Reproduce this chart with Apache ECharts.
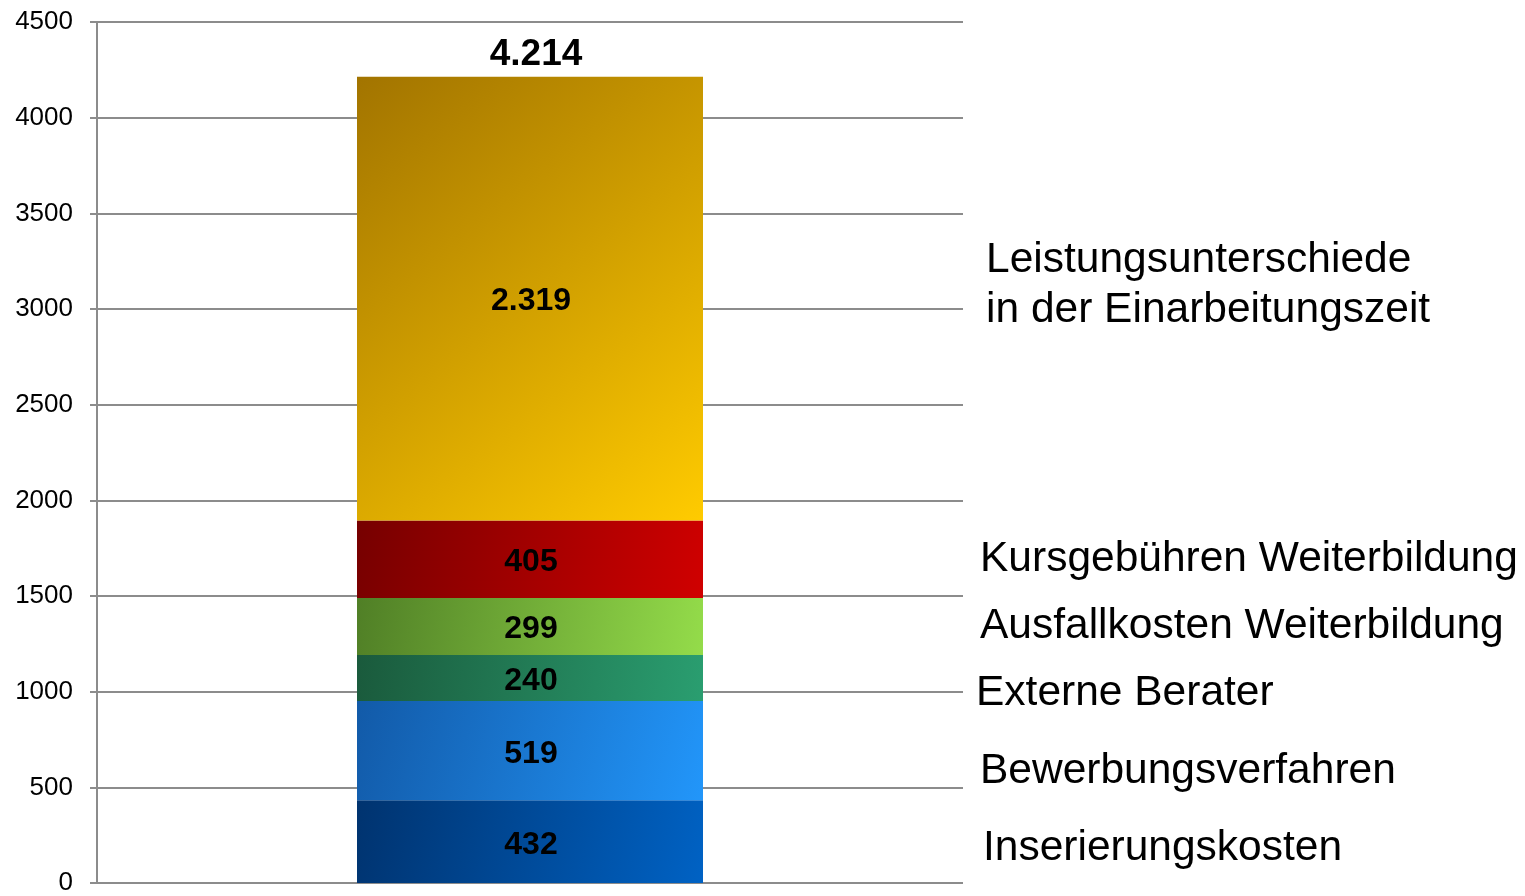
<!DOCTYPE html>
<html>
<head>
<meta charset="utf-8">
<script src="https://cdn.jsdelivr.net/npm/echarts@6/dist/echarts.min.js"></script>
<style>
html,body{margin:0;padding:0;background:#fff;}
#chart{width:1525px;height:896px;}
</style>
</head>
<body>
<div id="chart"></div>
<script>
const categories = ['Kosten'];
const seriesNames = ['Inserierungskosten', 'Bewerbungsverfahren', 'Externe Berater', 'Ausfallkosten Weiterbildung', 'Kursgebühren Weiterbildung', 'Leistungsunterschiede\nin der Einarbeitungszeit'];
const seriesValues = [432, 519, 240, 299, 405, 2319];
const yTicks = { min: 0, max: 4500, interval: 500 };

const gradients = [
  ['#00336f', '#0062c4'],
  ['#125aa8', '#2296fa'],
  ['#1a5a3c', '#2a9e70'],
  ['#507f26', '#94dc4a'],
  ['#760000', '#d00000'],
  ['#a27400', '#ffcb00']
];
// right-hand label placement (pixel styling)
const sideLabelPos = [
  [983, 848], [980, 771], [976, 693], [980, 626], [980, 559], [986, 285]
];

const FONT = '"Liberation Sans", Arial, sans-serif';
function fmt(v) { return String(v).replace(/\B(?=(\d{3})+(?!\d))/g, '.'); }
const total = seriesValues.reduce((a, b) => a + b, 0);

const chart = echarts.init(document.getElementById('chart'));
const series = seriesValues.map((v, i) => ({
  name: seriesNames[i],
  type: 'bar',
  stack: 'total',
  barWidth: 346,
  data: [v],
  itemStyle: {
    color: new echarts.graphic.LinearGradient(0, 0, 1, 1, [
      { offset: 0, color: gradients[i][0] },
      { offset: 1, color: gradients[i][1] }
    ])
  },
  label: {
    show: true,
    position: 'inside',
    offset: [1, 3],
    formatter: p => fmt(p.value),
    fontFamily: FONT,
    fontWeight: 'bold',
    fontSize: 32,
    color: '#000'
  },
  emphasis: { disabled: true }
}));
series.push({
  name: 'Gesamt',
  type: 'line',
  data: [total],
  symbol: 'circle',
  symbolSize: 1,
  itemStyle: { color: 'rgba(0,0,0,0)' },
  lineStyle: { opacity: 0 },
  label: {
    show: true,
    position: 'top',
    distance: 3,
    offset: [6, 0],
    formatter: p => fmt(p.value),
    fontFamily: FONT,
    fontWeight: 'bold',
    fontSize: 37,
    color: '#000'
  },
  emphasis: { disabled: true },
  z: 10
});

chart.setOption({
  animation: false,
  backgroundColor: '#fff',
  grid: { left: 97, right: 562, top: 22, bottom: 9, containLabel: false },
  xAxis: {
    type: 'category',
    data: categories,
    axisLine: { show: false },
    axisTick: { show: false },
    axisLabel: { show: false }
  },
  yAxis: {
    type: 'value',
    min: yTicks.min,
    max: yTicks.max,
    interval: yTicks.interval,
    axisLine: { show: true, lineStyle: { color: '#8c8c8c', width: 2 } },
    axisTick: { show: true, length: 7, lineStyle: { color: '#8c8c8c', width: 2 } },
    axisLabel: { fontFamily: FONT, fontSize: 26, color: '#000', margin: 24, formatter: v => String(v) },
    splitLine: { show: true, lineStyle: { color: '#8c8c8c', width: 2 } }
  },
  series: series,
  graphic: seriesNames.map((n, i) => ({
    type: 'text',
    x: sideLabelPos[i][0],
    y: sideLabelPos[i][1],
    style: {
      text: n,
      font: '42.5px ' + FONT,
      fill: '#000',
      textVerticalAlign: 'middle',
      verticalAlign: 'middle',
      lineHeight: 50
    }
  }))
});
</script>
</body>
</html>
